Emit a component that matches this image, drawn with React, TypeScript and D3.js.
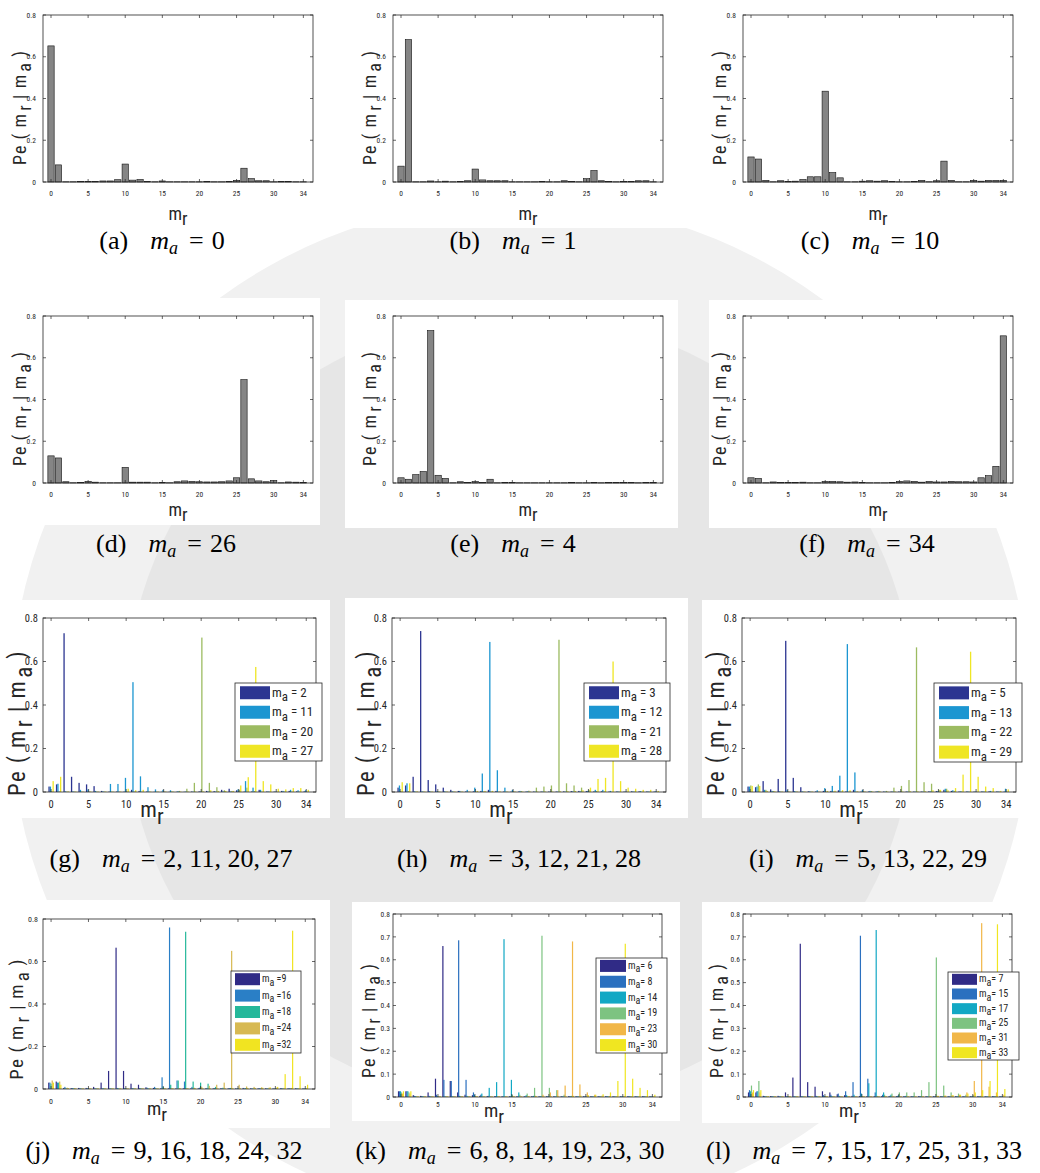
import React from 'react';
import * as d3 from 'd3';

// received symbol index m_r on the horizontal axis
const mrValues: number[] = d3.range(0, 35);
const xTickValues = [0, 5, 10, 15, 20, 25, 30, 34];
const yTicksCoarse = [0, 0.2, 0.4, 0.6, 0.8];
const yTicksFine = [0, 0.1, 0.2, 0.3, 0.4, 0.5, 0.6, 0.7, 0.8];

// ---- single transmitted symbol panels: Pe(m_r | m_a) ----
const peMa0 = [0.652,0.082,0.001,0.001,0.002,0.002,0.002,0.005,0.005,0.011, 0.086,0.009,0.012,0.002,0.001,0.005,0.001,0.001,0.001,0.001, 0.001,0.002,0.001,0.001,0.003,0.008,0.066,0.016,0.006,0.006, 0.001,0.002,0.003,0.001,0.001];
const peMa1 = [0.076,0.682,0.001,0.001,0.005,0.001,0.004,0.001,0.003,0.006, 0.062,0.010,0.006,0.006,0.006,0.001,0.001,0.001,0.001,0.003, 0.001,0.001,0.006,0.003,0.001,0.016,0.055,0.006,0.003,0.001, 0.002,0.003,0.006,0.006,0.001];
const peMa10 = [0.120,0.110,0.008,0.001,0.006,0.003,0.004,0.012,0.025,0.025, 0.435,0.045,0.020,0.001,0.001,0.004,0.006,0.004,0.006,0.002, 0.001,0.001,0.003,0.008,0.001,0.006,0.100,0.008,0.001,0.001, 0.008,0.004,0.008,0.008,0.008];
const peMa26 = [0.130,0.120,0.006,0.001,0.003,0.008,0.004,0.001,0.001,0.001, 0.075,0.004,0.004,0.004,0.001,0.003,0.001,0.006,0.010,0.008, 0.006,0.005,0.005,0.006,0.010,0.025,0.495,0.020,0.010,0.006, 0.012,0.001,0.005,0.004,0.003];
const peMa4 = [0.025,0.018,0.040,0.055,0.730,0.037,0.022,0.001,0.006,0.003, 0.007,0.002,0.018,0.001,0.003,0.002,0.001,0.001,0.001,0.001, 0.001,0.001,0.001,0.003,0.001,0.001,0.002,0.001,0.002,0.002, 0.002,0.002,0.001,0.002,0.002];
const peMa34 = [0.025,0.022,0.001,0.005,0.002,0.002,0.003,0.004,0.001,0.001, 0.008,0.008,0.006,0.004,0.005,0.003,0.001,0.001,0.001,0.003, 0.008,0.010,0.008,0.004,0.008,0.005,0.005,0.008,0.006,0.006, 0.005,0.025,0.035,0.080,0.705];

// ---- grouped panels ----
const peMa2 = [0.025,0.035,0.730,0.070,0.042,0.035,0.027,0.005,0.002,0.002, 0.002,0.010,0.005,0.002,0.001,0.001,0.001,0.001,0.001,0.002, 0.003,0.005,0.004,0.010,0.015,0.008,0.002,0.002,0.010,0.002, 0.002,0.005,0.005,0.003,0.003];
const peMa11 = [0.025,0.038,0.003,0.003,0.010,0.012,0.005,0.003,0.037,0.037, 0.065,0.505,0.072,0.022,0.012,0.010,0.008,0.004,0.002,0.002, 0.002,0.003,0.002,0.003,0.002,0.012,0.050,0.020,0.010,0.003, 0.002,0.005,0.010,0.008,0.008];
const peMa20 = [0.003,0.003,0.002,0.002,0.002,0.002,0.002,0.002,0.002,0.002, 0.003,0.002,0.002,0.002,0.002,0.002,0.003,0.005,0.015,0.042, 0.710,0.042,0.022,0.008,0.004,0.010,0.020,0.004,0.002,0.002, 0.002,0.002,0.002,0.002,0.002];
const peMa27 = [0.050,0.070,0.003,0.002,0.002,0.002,0.002,0.002,0.002,0.002, 0.015,0.008,0.010,0.002,0.002,0.002,0.002,0.002,0.002,0.002, 0.003,0.008,0.005,0.005,0.005,0.030,0.068,0.575,0.050,0.035, 0.015,0.012,0.018,0.018,0.010];

const peMa3 = [0.020,0.030,0.070,0.740,0.055,0.035,0.020,0.010,0.005,0.003, 0.003,0.005,0.010,0.005,0.002,0.002,0.002,0.002,0.002,0.002, 0.002,0.002,0.003,0.004,0.005,0.004,0.003,0.003,0.002,0.002, 0.002,0.003,0.003,0.002,0.002];
const peMa12 = [0.030,0.040,0.003,0.003,0.004,0.004,0.003,0.003,0.005,0.010, 0.020,0.085,0.690,0.100,0.020,0.010,0.005,0.003,0.002,0.002, 0.002,0.002,0.002,0.003,0.003,0.005,0.010,0.010,0.005,0.003, 0.002,0.003,0.004,0.003,0.003];
const peMa21 = [0.004,0.004,0.002,0.002,0.002,0.002,0.002,0.002,0.002,0.002, 0.002,0.002,0.002,0.002,0.002,0.003,0.004,0.006,0.020,0.025, 0.030,0.700,0.040,0.030,0.020,0.010,0.005,0.003,0.002,0.002, 0.002,0.002,0.002,0.002,0.002];
const peMa28 = [0.045,0.040,0.003,0.002,0.002,0.002,0.002,0.002,0.002,0.002, 0.005,0.005,0.005,0.003,0.002,0.002,0.002,0.002,0.002,0.002, 0.002,0.003,0.004,0.005,0.008,0.020,0.060,0.065,0.600,0.050, 0.020,0.015,0.010,0.010,0.005];

const peMa5 = [0.025,0.022,0.050,0.012,0.060,0.695,0.065,0.022,0.003,0.003, 0.005,0.005,0.008,0.003,0.010,0.002,0.002,0.002,0.002,0.002, 0.002,0.002,0.002,0.002,0.003,0.004,0.010,0.005,0.002,0.002, 0.002,0.002,0.003,0.002,0.002];
const peMa13 = [0.025,0.025,0.010,0.005,0.003,0.010,0.004,0.003,0.003,0.008, 0.018,0.028,0.075,0.680,0.090,0.010,0.005,0.003,0.002,0.002, 0.002,0.002,0.002,0.002,0.003,0.004,0.015,0.008,0.003,0.003, 0.002,0.003,0.005,0.003,0.015];
const peMa22 = [0.030,0.035,0.010,0.004,0.002,0.002,0.002,0.002,0.002,0.002, 0.002,0.002,0.002,0.002,0.002,0.003,0.004,0.005,0.005,0.020, 0.028,0.055,0.665,0.045,0.038,0.010,0.015,0.005,0.003,0.002, 0.002,0.002,0.002,0.002,0.002];
const peMa29 = [0.028,0.028,0.005,0.003,0.002,0.002,0.002,0.002,0.002,0.002, 0.005,0.006,0.008,0.008,0.003,0.002,0.002,0.002,0.002,0.002, 0.002,0.003,0.003,0.003,0.008,0.010,0.008,0.018,0.080,0.645, 0.070,0.025,0.018,0.005,0.012];

const peMa9 = [0.030,0.035,0.005,0.004,0.005,0.005,0.010,0.030,0.085,0.665, 0.085,0.025,0.020,0.008,0.005,0.004,0.003,0.003,0.003,0.003, 0.003,0.003,0.003,0.003,0.003,0.003,0.005,0.003,0.003,0.003, 0.003,0.003,0.003,0.003,0.003];
const peMa16 = [0.030,0.030,0.010,0.004,0.004,0.004,0.003,0.003,0.003,0.005, 0.004,0.004,0.004,0.006,0.010,0.055,0.760,0.040,0.035,0.010, 0.006,0.005,0.004,0.004,0.004,0.003,0.003,0.003,0.004,0.003, 0.003,0.004,0.004,0.003,0.003];
const peMa18 = [0.025,0.030,0.004,0.003,0.003,0.003,0.003,0.003,0.003,0.003, 0.003,0.003,0.003,0.003,0.004,0.010,0.020,0.040,0.740,0.035, 0.030,0.025,0.010,0.006,0.005,0.004,0.004,0.003,0.003,0.003, 0.003,0.003,0.003,0.003,0.003];
const peMa24 = [0.040,0.035,0.006,0.004,0.003,0.003,0.003,0.003,0.003,0.003, 0.003,0.003,0.003,0.003,0.003,0.003,0.004,0.004,0.004,0.006, 0.010,0.015,0.020,0.030,0.650,0.020,0.012,0.010,0.008,0.006, 0.006,0.005,0.005,0.004,0.004];
const peMa32 = [0.030,0.020,0.004,0.003,0.003,0.003,0.003,0.003,0.003,0.003, 0.003,0.003,0.003,0.003,0.003,0.003,0.003,0.003,0.003,0.003, 0.003,0.003,0.003,0.003,0.004,0.004,0.005,0.005,0.006,0.008, 0.010,0.070,0.745,0.060,0.020];

const peMa6 = [0.025,0.025,0.008,0.005,0.020,0.080,0.660,0.070,0.020,0.010, 0.008,0.005,0.004,0.003,0.003,0.003,0.003,0.003,0.003,0.003, 0.003,0.003,0.003,0.003,0.003,0.003,0.003,0.003,0.003,0.003, 0.003,0.003,0.003,0.003,0.003];
const peMa8 = [0.025,0.025,0.005,0.004,0.005,0.010,0.075,0.070,0.685,0.075, 0.020,0.010,0.005,0.004,0.003,0.003,0.003,0.003,0.003,0.003, 0.003,0.003,0.003,0.003,0.003,0.003,0.003,0.003,0.003,0.003, 0.003,0.003,0.003,0.003,0.003];
const peMa14 = [0.025,0.025,0.004,0.003,0.003,0.003,0.003,0.003,0.005,0.005, 0.010,0.015,0.040,0.065,0.690,0.075,0.020,0.008,0.005,0.004, 0.003,0.003,0.003,0.003,0.003,0.003,0.003,0.003,0.003,0.003, 0.003,0.003,0.003,0.003,0.003];
const peMa19 = [0.020,0.020,0.003,0.003,0.003,0.003,0.003,0.003,0.003,0.003, 0.003,0.003,0.003,0.003,0.004,0.008,0.010,0.015,0.040,0.705, 0.040,0.030,0.010,0.005,0.004,0.003,0.003,0.003,0.003,0.003, 0.003,0.003,0.003,0.003,0.003];
const peMa23 = [0.015,0.015,0.003,0.003,0.003,0.003,0.003,0.003,0.003,0.003, 0.003,0.003,0.003,0.003,0.003,0.003,0.003,0.004,0.005,0.010, 0.020,0.030,0.050,0.680,0.055,0.020,0.010,0.006,0.004,0.004, 0.004,0.003,0.003,0.003,0.003];
const peMa30 = [0.025,0.025,0.003,0.003,0.003,0.003,0.003,0.003,0.003,0.003, 0.003,0.003,0.003,0.003,0.003,0.003,0.003,0.003,0.003,0.003, 0.003,0.003,0.003,0.005,0.006,0.008,0.010,0.012,0.020,0.070, 0.670,0.080,0.040,0.030,0.010];

const peMa7 = [0.020,0.020,0.005,0.004,0.005,0.020,0.085,0.670,0.065,0.045, 0.025,0.020,0.012,0.008,0.005,0.004,0.003,0.003,0.003,0.003, 0.003,0.003,0.003,0.003,0.003,0.003,0.003,0.003,0.003,0.003, 0.003,0.003,0.003,0.003,0.003];
const peMa15 = [0.030,0.025,0.004,0.003,0.003,0.003,0.003,0.003,0.004,0.005, 0.008,0.010,0.015,0.025,0.065,0.705,0.080,0.020,0.010,0.005, 0.004,0.003,0.003,0.003,0.003,0.003,0.003,0.003,0.003,0.003, 0.003,0.003,0.003,0.003,0.003];
const peMa17 = [0.025,0.025,0.003,0.003,0.003,0.003,0.003,0.003,0.003,0.003, 0.003,0.004,0.005,0.008,0.010,0.015,0.060,0.730,0.020,0.010, 0.008,0.005,0.004,0.003,0.003,0.003,0.003,0.003,0.003,0.003, 0.003,0.003,0.003,0.003,0.003];
const peMa25 = [0.050,0.070,0.004,0.003,0.003,0.003,0.003,0.003,0.003,0.003, 0.003,0.003,0.003,0.003,0.003,0.003,0.003,0.005,0.010,0.015, 0.020,0.020,0.020,0.030,0.065,0.610,0.050,0.020,0.015,0.010, 0.008,0.005,0.004,0.004,0.003];
const peMa31 = [0.020,0.020,0.003,0.003,0.003,0.003,0.003,0.003,0.003,0.003, 0.003,0.003,0.003,0.003,0.003,0.003,0.003,0.003,0.003,0.003, 0.003,0.003,0.003,0.003,0.004,0.005,0.006,0.008,0.010,0.020, 0.070,0.760,0.045,0.020,0.010];
const peMa33 = [0.030,0.030,0.004,0.003,0.003,0.003,0.003,0.003,0.003,0.003, 0.003,0.003,0.003,0.003,0.003,0.003,0.003,0.003,0.003,0.003, 0.003,0.003,0.003,0.003,0.004,0.005,0.006,0.008,0.010,0.015, 0.020,0.030,0.070,0.755,0.035];

// series colours
const barGrey = '#858585';
const colors4 = ['#2c3591', '#1c96d1', '#9cbb61', '#efe625'];
const colors5 = ['#302b86', '#2a7fc6', '#25b89a', '#d7b952', '#f1e421'];
const colors6 = ['#302b86', '#2b70bf', '#12a8c4', '#7dc381', '#f1b748', '#f0e621'];

const AXIS_FONT = "'Liberation Sans Narrow', 'Roboto Condensed', 'Open Sans', sans-serif";
const CAPTION_FONT = "'Liberation Serif', 'DejaVu Serif', serif";
const INK = '#262626';

type LegendSpec = {
  x: number; y: number; w: number; h: number;
  pad: number; pw: number; ph: number; fs: number;
  labels: string[]; sep: string;
};

type PanelSpec = {
  id: string;
  frame: [number, number, number, number];
  l: number; r: number; t: number; b: number;
  series: number[][];
  colors: string[];
  yTicks: number[];
  tickFs: number; xTickDy: number; yTickDx: number;
  ylabFs: number; ylabX: number; ylabDy: number;
  xlab: { x: number; y: number; fs: number };
  caption: { x: number; y: number; tag: string; val: string };
  legend?: LegendSpec;
};

const row1 = { t: 15, b: 182 };
const row2 = { t: 316, b: 483 };
const row3 = { t: 618, b: 792 };
const small = { tickFs: 7.5, xTickDy: 14, yTickDx: 7, ylabFs: 18, ylabX: 17, ylabDy: 9 };
const mid = { tickFs: 10.5, xTickDy: 16, yTickDx: 5, ylabFs: 23, ylabX: 18, ylabDy: 18 };

const panels: PanelSpec[] = [
  { id: 'a', frame: [0, 0, 335, 228], l: 43, r: 313, ...row1, series: [peMa0], colors: [barGrey], yTicks: yTicksCoarse, ...small,
    xlab: { x: 178, y: 220, fs: 18 }, caption: { x: 162, y: 249, tag: '(a)', val: '0' } },
  { id: 'b', frame: [345, 0, 345, 228], l: 393, r: 663, ...row1, series: [peMa1], colors: [barGrey], yTicks: yTicksCoarse, ...small,
    xlab: { x: 528, y: 220, fs: 18 }, caption: { x: 513, y: 249, tag: '(b)', val: '1' } },
  { id: 'c', frame: [690, 0, 350, 228], l: 743, r: 1013, ...row1, series: [peMa10], colors: [barGrey], yTicks: yTicksCoarse, ...small,
    xlab: { x: 878, y: 220, fs: 18 }, caption: { x: 870, y: 249, tag: '(c)', val: '10' } },
  { id: 'd', frame: [0, 298, 320, 227], l: 43, r: 313, ...row2, series: [peMa26], colors: [barGrey], yTicks: yTicksCoarse, ...small,
    xlab: { x: 178, y: 516, fs: 18 }, caption: { x: 166, y: 552, tag: '(d)', val: '26' } },
  { id: 'e', frame: [345, 300, 333, 228], l: 393, r: 663, ...row2, series: [peMa4], colors: [barGrey], yTicks: yTicksCoarse, ...small,
    xlab: { x: 528, y: 516, fs: 18 }, caption: { x: 513, y: 552, tag: '(e)', val: '4' } },
  { id: 'f', frame: [709, 300, 311, 228], l: 743, r: 1013, ...row2, series: [peMa34], colors: [barGrey], yTicks: yTicksCoarse, ...small,
    xlab: { x: 878, y: 516, fs: 18 }, caption: { x: 867, y: 552, tag: '(f)', val: '34' } },
  { id: 'g', frame: [0, 600, 330, 218], l: 43, r: 316, ...row3, series: [peMa2, peMa11, peMa20, peMa27], colors: colors4, yTicks: yTicksCoarse, ...mid,
    xlab: { x: 152, y: 817, fs: 22 }, caption: { x: 171, y: 867, tag: '(g)', val: '2, 11, 20, 27' },
    legend: { x: 235, y: 683, w: 87, h: 78, pad: 5, pw: 30, ph: 13, fs: 13, labels: ['2', '11', '20', '27'], sep: ' = ' } },
  { id: 'h', frame: [345, 598, 343, 220], l: 392, r: 666, ...row3, series: [peMa3, peMa12, peMa21, peMa28], colors: colors4, yTicks: yTicksCoarse, ...mid,
    xlab: { x: 501, y: 817, fs: 22 }, caption: { x: 519, y: 867, tag: '(h)', val: '3, 12, 21, 28' },
    legend: { x: 584, y: 683, w: 86, h: 78, pad: 5, pw: 30, ph: 13, fs: 13, labels: ['3', '12', '21', '28'], sep: ' = ' } },
  { id: 'i', frame: [702, 600, 338, 218], l: 742, r: 1016, ...row3, series: [peMa5, peMa13, peMa22, peMa29], colors: colors4, yTicks: yTicksCoarse, ...mid,
    xlab: { x: 851, y: 817, fs: 22 }, caption: { x: 868, y: 867, tag: '(i)', val: '5, 13, 22, 29' },
    legend: { x: 934, y: 683, w: 88, h: 79, pad: 5, pw: 30, ph: 13, fs: 13, labels: ['5', '13', '22', '29'], sep: ' = ' } },
  { id: 'j', frame: [0, 900, 330, 228], l: 43, r: 315, t: 919, b: 1089, series: [peMa9, peMa16, peMa18, peMa24, peMa32], colors: colors5, yTicks: yTicksCoarse,
    tickFs: 8, xTickDy: 15, yTickDx: 5, ylabFs: 19, ylabX: 20, ylabDy: 15,
    xlab: { x: 157, y: 1115, fs: 19 }, caption: { x: 164, y: 1159, tag: '(j)', val: '9, 16, 18, 24, 32' },
    legend: { x: 231, y: 971, w: 70, h: 82, pad: 4, pw: 25, ph: 12, fs: 10, labels: ['9', '16', '18', '24', '32'], sep: ' =' } },
  { id: 'k', frame: [352, 902, 328, 219], l: 393, r: 662, t: 914, b: 1097, series: [peMa6, peMa8, peMa14, peMa19, peMa23, peMa30], colors: colors6, yTicks: yTicksFine,
    tickFs: 7.5, xTickDy: 10, yTickDx: 3, ylabFs: 18, ylabX: 18, ylabDy: 15,
    xlab: { x: 494, y: 1117, fs: 19 }, caption: { x: 510, y: 1159, tag: '(k)', val: '6, 8, 14, 19, 23, 30' },
    legend: { x: 596, y: 958, w: 71, h: 95, pad: 4, pw: 26, ph: 12, fs: 10, labels: ['6', '8', '14', '19', '23', '30'], sep: '= ' } },
  { id: 'l', frame: [702, 902, 338, 221], l: 743, r: 1012, t: 914, b: 1097, series: [peMa7, peMa15, peMa17, peMa25, peMa31, peMa33], colors: colors6, yTicks: yTicksFine,
    tickFs: 7.5, xTickDy: 10, yTickDx: 3, ylabFs: 18, ylabX: 20, ylabDy: 15,
    xlab: { x: 849, y: 1117, fs: 19 }, caption: { x: 864, y: 1159, tag: '(l)', val: '7, 15, 17, 25, 31, 33' },
    legend: { x: 948, y: 972, w: 71, h: 88, pad: 4, pw: 25, ph: 11, fs: 10, labels: ['7', '15', '17', '25', '31', '33'], sep: '= ' } },
];

function Legend({ lg, colors }: { lg: LegendSpec; colors: string[] }) {
  const rowH = lg.h / lg.labels.length;
  return (
    <g>
      <rect x={lg.x} y={lg.y} width={lg.w} height={lg.h} fill="#fff" stroke={INK} strokeWidth={0.8} />
      {lg.labels.map((lab, i) => {
        const cy = lg.y + rowH * i + rowH / 2;
        return (
          <g key={lab}>
            <rect x={lg.x + lg.pad} y={cy - lg.ph / 2} width={lg.pw} height={lg.ph} fill={colors[i]} />
            <text x={lg.x + lg.pad + lg.pw + 2} y={cy + lg.fs * 0.3} fontFamily={AXIS_FONT} fontSize={lg.fs} fill={INK}>
              m<tspan dy={lg.fs * 0.35}>a</tspan><tspan dy={-lg.fs * 0.35}>{lg.sep + lab}</tspan>
            </text>
          </g>
        );
      })}
    </g>
  );
}

function Panel({ p }: { p: PanelSpec }) {
  const x = d3.scaleLinear().domain([-1.08, 35.3]).range([p.l, p.r]);
  const y = d3.scaleLinear().domain([0, 0.8]).range([p.b, p.t]);
  const n = p.series.length;
  const single = n === 1;
  const groupW = single ? 0.85 : Math.min(0.8, n / (n + 1.5));
  const slot = groupW / n;
  const unit = x(1) - x(0);
  const barPx = single ? 0.85 * unit : Math.max(1.2, slot * unit * 0.95);
  const tickLen = 3;
  const [fx, fy, fw, fh] = p.frame;
  const { caption: c } = p;
  const sub = p.ylabFs * 0.3;
  return (
    <g>
      <rect x={fx} y={fy} width={fw} height={fh} fill="#fff" />
      {p.series.map((vals, si) => (
        <g key={si}>
          {mrValues.map((m) => {
            const cx = single ? x(m) : x(m - groupW / 2 + slot * (si + 0.5));
            const v = vals[m];
            return (
              <rect key={m} x={cx - barPx / 2} y={y(v)} width={barPx} height={Math.max(0, y(0) - y(v))}
                fill={p.colors[si]} stroke={single ? '#111' : 'none'} strokeWidth={single ? 0.6 : 0} />
            );
          })}
        </g>
      ))}
      <rect x={p.l} y={p.t} width={p.r - p.l} height={p.b - p.t} fill="none" stroke={INK} strokeWidth={0.8} />
      {xTickValues.map((v) => (
        <g key={'x' + v}>
          <line x1={x(v)} x2={x(v)} y1={p.b} y2={p.b - tickLen} stroke={INK} strokeWidth={0.7} />
          <line x1={x(v)} x2={x(v)} y1={p.t} y2={p.t + tickLen} stroke={INK} strokeWidth={0.7} />
          <text x={x(v)} y={p.b + p.xTickDy} textAnchor="middle" fontFamily={AXIS_FONT} fontSize={p.tickFs} fill={INK}>{v}</text>
        </g>
      ))}
      {p.yTicks.map((v) => (
        <g key={'y' + v}>
          <line x1={p.l} x2={p.l + tickLen} y1={y(v)} y2={y(v)} stroke={INK} strokeWidth={0.7} />
          <line x1={p.r} x2={p.r - tickLen} y1={y(v)} y2={y(v)} stroke={INK} strokeWidth={0.7} />
          <text x={p.l - p.yTickDx} y={y(v) + p.tickFs * 0.35} textAnchor="end" fontFamily={AXIS_FONT} fontSize={p.tickFs} fill={INK}>{String(v)}</text>
        </g>
      ))}
      <text transform={`translate(${p.l - p.ylabX},${(p.t + p.b) / 2 + p.ylabDy}) rotate(-90)`} textAnchor="middle"
        fontFamily={AXIS_FONT} fontSize={p.ylabFs} fill={INK} letterSpacing={p.ylabFs * 0.06}>
        Pe ( m<tspan dx={2} dy={sub}>r</tspan><tspan dy={-sub}> | m</tspan><tspan dx={2} dy={sub}>a</tspan><tspan dy={-sub}> )</tspan>
      </text>
      <text x={p.xlab.x} y={p.xlab.y} textAnchor="middle" fontFamily={AXIS_FONT} fontSize={p.xlab.fs} fill={INK}>
        m<tspan dy={p.xlab.fs * 0.3}>r</tspan>
      </text>
      {p.legend && <Legend lg={p.legend} colors={p.colors} />}
      <text x={c.x} y={c.y} textAnchor="middle" fontFamily={CAPTION_FONT} fontSize={26} fill="#000">
        {c.tag}<tspan dx={22} fontStyle="italic">m</tspan><tspan fontStyle="italic" fontSize={18} dy={5}>a</tspan><tspan dy={-5} dx={11}>=</tspan><tspan dx={8}>{c.val}</tspan>
      </text>
    </g>
  );
}

export default function App() {
  return (
    <svg width={1040} height={1173} viewBox="0 0 1040 1173" style={{ position: 'absolute', left: 0, top: 0, background: '#fff' }}>
      <rect x={0} y={0} width={1040} height={1173} fill="#fff" />
      {/* faint seal behind the figure frames: lettered outer band and solid emblem */}
      <circle cx={520} cy={710} r={510} fill="#f1f1f1" />
      <circle cx={520} cy={710} r={395} fill="#e6e6e6" />
      {panels.map((p) => <Panel key={p.id} p={p} />)}
    </svg>
  );
}
